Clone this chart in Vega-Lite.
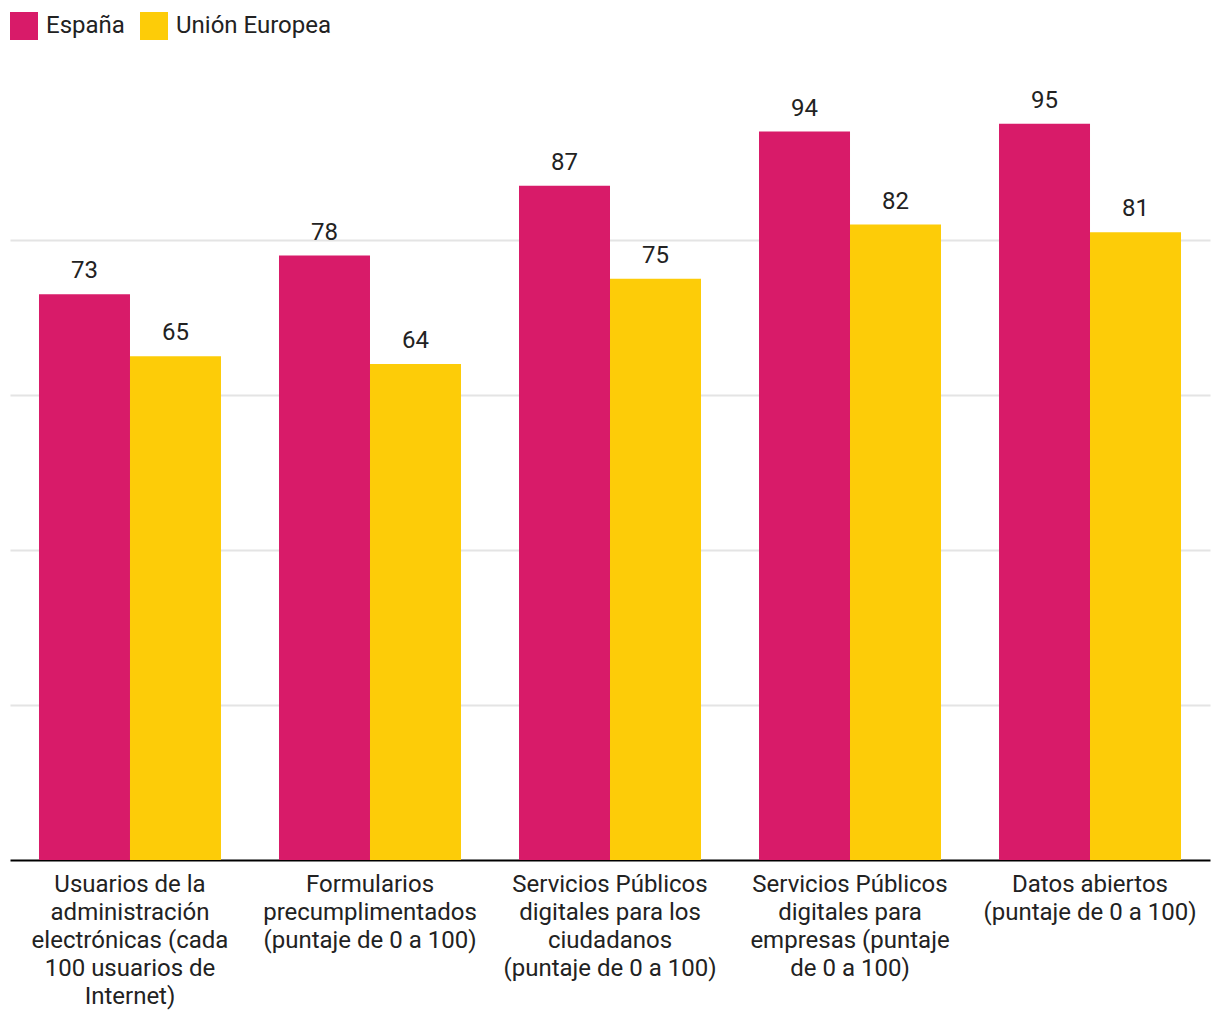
{
  "$schema": "https://vega.github.io/schema/vega-lite/v6.json",
  "width": 1200,
  "height": 775,
  "autosize": {"type": "none"},
  "padding": {"left": 10, "right": 10, "top": 85, "bottom": 160},
  "background": "white",
  "config": {
    "view": {"stroke": null},
    "font": "Roboto",
    "text": {"font": "Roboto"}
  },
  "data": {
    "values": [
      {"indicador": "Usuarios de la administración electrónicas (cada 100 usuarios de Internet)", "zona": "España", "valor": 73},
      {"indicador": "Usuarios de la administración electrónicas (cada 100 usuarios de Internet)", "zona": "Unión Europea", "valor": 65},
      {"indicador": "Formularios precumplimentados (puntaje de 0 a 100)", "zona": "España", "valor": 78},
      {"indicador": "Formularios precumplimentados (puntaje de 0 a 100)", "zona": "Unión Europea", "valor": 64},
      {"indicador": "Servicios Públicos digitales para los ciudadanos (puntaje de 0 a 100)", "zona": "España", "valor": 87},
      {"indicador": "Servicios Públicos digitales para los ciudadanos (puntaje de 0 a 100)", "zona": "Unión Europea", "valor": 75},
      {"indicador": "Servicios Públicos digitales para empresas (puntaje de 0 a 100)", "zona": "España", "valor": 94},
      {"indicador": "Servicios Públicos digitales para empresas (puntaje de 0 a 100)", "zona": "Unión Europea", "valor": 82},
      {"indicador": "Datos abiertos (puntaje de 0 a 100)", "zona": "España", "valor": 95},
      {"indicador": "Datos abiertos (puntaje de 0 a 100)", "zona": "Unión Europea", "valor": 81}
    ]
  },
  "encoding": {
    "x": {
      "field": "indicador",
      "type": "nominal",
      "sort": null,
      "scale": {"paddingInner": 0.2417, "paddingOuter": 0.1208},
      "axis": {
        "title": null,
        "labelAngle": 0,
        "labelFontSize": 24,
        "labelColor": "#222222",
        "labelFont": "Roboto",
        "labelLineHeight": 28,
        "labelPadding": 12,
        "labelBaseline": "top",
        "labelLimit": 0,
        "ticks": false,
        "domainColor": "#000000",
        "domainWidth": 2,
        "labelExpr": "datum.value == 'Usuarios de la administración electrónicas (cada 100 usuarios de Internet)' ? ['Usuarios de la','administración','electrónicas (cada','100 usuarios de','Internet)'] : datum.value == 'Formularios precumplimentados (puntaje de 0 a 100)' ? ['Formularios','precumplimentados','(puntaje de 0 a 100)'] : datum.value == 'Servicios Públicos digitales para los ciudadanos (puntaje de 0 a 100)' ? ['Servicios Públicos','digitales para los','ciudadanos','(puntaje de 0 a 100)'] : datum.value == 'Servicios Públicos digitales para empresas (puntaje de 0 a 100)' ? ['Servicios Públicos','digitales para','empresas (puntaje','de 0 a 100)'] : ['Datos abiertos','(puntaje de 0 a 100)']"
      }
    },
    "xOffset": {"field": "zona", "type": "nominal", "sort": ["España", "Unión Europea"], "scale": {"paddingInner": 0, "paddingOuter": 0}},
    "y": {
      "field": "valor",
      "type": "quantitative",
      "scale": {"domain": [0, 100], "nice": false},
      "axis": {
        "title": null,
        "values": [20, 40, 60, 80],
        "labels": false,
        "ticks": false,
        "domain": false,
        "grid": true,
        "gridColor": "#e4e4e4",
        "gridWidth": 2
      }
    }
  },
  "layer": [
    {
      "mark": {"type": "bar"},
      "encoding": {
        "color": {
          "field": "zona",
          "type": "nominal",
          "scale": {"domain": ["España", "Unión Europea"], "range": ["#d81b69", "#fdcc08"]},
          "legend": {
            "title": null,
            "orient": "none",
            "legendX": 0,
            "legendY": -73,
            "direction": "horizontal",
            "symbolType": "square",
            "symbolSize": 784,
            "symbolStrokeWidth": 0,
            "symbolOpacity": 1,
            "labelFontSize": 24,
            "labelFont": "Roboto",
            "labelColor": "#222222",
            "labelOffset": 8,
            "columnPadding": 15
          }
        }
      }
    },
    {
      "mark": {"type": "text", "baseline": "alphabetic", "dy": -16, "fontSize": 24, "font": "Roboto", "color": "#222222"},
      "encoding": {
        "text": {"field": "valor", "type": "quantitative"}
      }
    }
  ]
}
